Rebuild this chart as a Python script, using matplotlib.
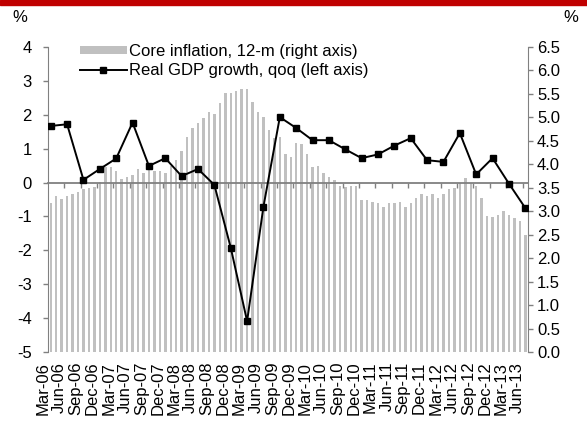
#!/usr/bin/env python3
import matplotlib

matplotlib.use("Agg")
import matplotlib.pyplot as plt
import numpy as np
from matplotlib.patches import Rectangle
from matplotlib.ticker import FormatStrFormatter

plt.rcParams["font.family"] = ["Liberation Sans", "DejaVu Sans"]
plt.rcParams["axes.unicode_minus"] = False


# quarterly tick labels (one label every third month)
QUARTERS = [
    "Mar-06", "Jun-06", "Sep-06", "Dec-06",
    "Mar-07", "Jun-07", "Sep-07", "Dec-07",
    "Mar-08", "Jun-08", "Sep-08", "Dec-08",
    "Mar-09", "Jun-09", "Sep-09", "Dec-09",
    "Mar-10", "Jun-10", "Sep-10", "Dec-10",
    "Mar-11", "Jun-11", "Sep-11", "Dec-11",
    "Mar-12", "Jun-12", "Sep-12", "Dec-12",
    "Mar-13", "Jun-13",
]

# real GDP growth, qoq, % (left axis)
GDP_QOQ = [
    1.67, 1.72, 0.08, 0.40, 0.71, 1.77, 0.49, 0.72, 0.19, 0.40,
    -0.07, -1.92, -4.09, -0.71, 1.93, 1.61, 1.25, 1.25, 0.98, 0.72,
    0.83, 1.09, 1.31, 0.66, 0.61, 1.46, 0.24, 0.72, -0.03, -0.75,
]

# core inflation, 12-m, % monthly Mar-06 .. Jun-13 (right axis)
CORE_INFL = [
    3.17, 3.32, 3.25, 3.32, 3.36, 3.42, 3.47, 3.49, 3.52, 3.62,
    3.94, 3.94, 3.86, 3.69, 3.74, 3.77, 3.89, 3.81, 3.92, 3.86,
    3.86, 3.81, 3.96, 4.09, 4.28, 4.58, 4.77, 4.89, 4.99, 5.11,
    5.08, 5.30, 5.53, 5.53, 5.56, 5.60, 5.60, 5.33, 5.11, 5.00,
    4.73, 4.55, 4.58, 4.23, 4.16, 4.46, 4.43, 4.23, 3.94, 3.96,
    3.81, 3.74, 3.67, 3.54, 3.51, 3.54, 3.54, 3.24, 3.24, 3.20,
    3.17, 3.10, 3.17, 3.17, 3.20, 3.08, 3.17, 3.28, 3.36, 3.32,
    3.36, 3.29, 3.36, 3.47, 3.49, 3.60, 3.70, 3.60, 3.54, 3.29,
    2.90, 2.87, 2.93, 3.01, 2.93, 2.86, 2.79, 2.49,
]

GREY = "#808080"
BAR = "#C0C0C0"
FS = 12


def main():
    fig = plt.figure(figsize=(5.87, 4.23), dpi=100)
    fig.patches.append(Rectangle((0, 1 - 5 / 423), 1, 5 / 423,
                                 transform=fig.transFigure, color="#C00000"))

    ax = fig.add_axes([48 / 587, 71 / 423, 480 / 587, 305 / 423])
    months = np.arange(len(CORE_INFL))
    bars = ax.bar(months, CORE_INFL, width=0.45, color=BAR,
                  label="Core inflation, 12-m (right axis)")
    ax.set_xlim(-0.5, len(CORE_INFL) - 0.5)
    ax.set_ylim(0, 6.5)
    ax.set_yticks(np.arange(0, 6.51, 0.5))
    ax.yaxis.set_major_formatter(FormatStrFormatter("%.1f"))

    ax2 = ax.twinx()
    qpos = np.arange(len(GDP_QOQ)) * 3
    line, = ax2.plot(qpos, GDP_QOQ, color="black", lw=1.4, marker="s",
                     ms=4.5, zorder=3,
                     label="Real GDP growth, qoq (left axis)")
    ax2.set_ylim(-5, 4)
    ax2.set_yticks(range(-5, 5))

    ax.yaxis.tick_right()
    ax2.yaxis.tick_left()

    # quarter labels at the bottom, small ticks on the zero line
    ax.set_xticks(qpos)
    ax.set_xticklabels(QUARTERS, rotation=90, ha="right", va="top")
    ax.set_xticks(np.arange(2.5, len(CORE_INFL), 3), minor=True)
    ax.tick_params(axis="x", which="both", length=0, pad=7, labelsize=FS)

    ax2.xaxis.set_visible(True)
    ax2.spines["bottom"].set_position(("data", 0))
    ax2.tick_params(axis="x", which="major", length=0, labelbottom=False)
    ax2.tick_params(axis="x", which="minor", length=3.5, width=1,
                    color=GREY, direction="out")

    for s in ("top", "bottom"):
        ax.spines[s].set_visible(False)
    for s in ("left", "right"):
        ax.spines[s].set_color(GREY)
    for s in ("top", "left", "right"):
        ax2.spines[s].set_visible(False)
    ax2.spines["bottom"].set_color(GREY)
    ax2.spines["bottom"].set_linewidth(1.3)

    ax.tick_params(axis="y", length=3.5, width=1, color=GREY, pad=3,
                   labelsize=FS)
    ax2.tick_params(axis="y", length=3.6, width=1, color=GREY, pad=8,
                    labelsize=FS)

    fig.text(12 / 587, 1 - 18 / 423, "%", fontsize=FS, ha="left", va="center")
    fig.text(578 / 587, 1 - 18 / 423, "%", fontsize=FS, ha="right", va="center")

    ax2.legend([bars, line], [bars.get_label(), line.get_label()],
               loc="upper left", bbox_to_anchor=(0.067, 1.01), frameon=False,
               borderpad=0, borderaxespad=0, handlelength=2.8,
               handletextpad=0.15, labelspacing=0.25, handleheight=0.35,
               fontsize=FS)

    fig.savefig("out.png", dpi=100)
    plt.close(fig)


if __name__ == "__main__":
    main()
